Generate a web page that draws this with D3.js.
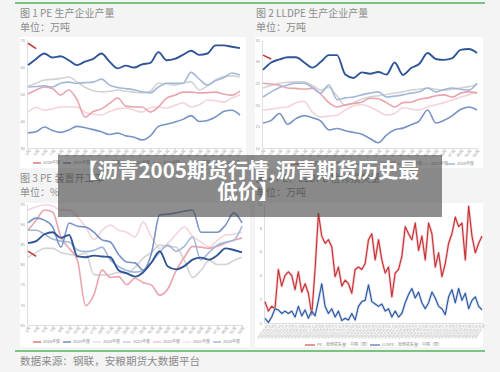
<!DOCTYPE html>
<html>
<head>
<meta charset="utf-8">
<script src="https://cdn.jsdelivr.net/npm/d3@7"></script>
<style>
  body { margin: 0; background: #f4f4f4; }
  svg { display: block; font-family: "Noto Sans CJK SC", "Noto Sans", sans-serif; }
</style>
</head>
<body>
<svg id="chart" width="500" height="372"></svg>
<script>
// shared by the three seasonal charts
var weekLabels = ["1周", "3周", "5周", "7周", "9周", "11周", "13周", "15周", "17周", "19周", "21周", "23周", "25周", "27周",
  "29周", "31周", "33周", "35周", "37周", "39周", "41周", "43周", "45周", "47周", "49周", "51周", "53周"];
var years = ["2026年度", "2025年度", "2024年度", "2023年度", "2022年度", "2021年度", "2020年度"];
var yearColours = ["#c23a3c", "#2f5597", "#d3d3d3", "#a2b8da", "#eaa4ad", "#f4d4d9", "#7893c6"];

// 图1 PE 生产企业产量 (万吨)
var pe2026 = [68.8, 66.8];
var pe2025 = [60.7, 63, 65, 63.5, 64, 62.5, 60.7, 62, 63, 65, 62, 59.5, 60.5, 59.8, 61, 61.5, 65.5, 62.5, 63, 64.5, 66, 64.5, 65, 68, 68, 67.5, 67];
var pe2024 = [53, 54, 55.2, 55.4, 55.8, 56.3, 54.5, 52.5, 51.2, 50.8, 51, 51.5, 51, 50.7, 50.4, 51, 54, 53.8, 53.3, 54, 54.5, 51.5, 53, 55.2, 56.5, 56.7, 56.3];
var pe2023 = [52.6, 52.8, 53, 52.6, 54, 54.4, 54, 54.2, 54.4, 55.5, 53.3, 52.4, 52, 51.6, 50.8, 50.4, 52.6, 54, 54, 54, 58, 55.5, 53.3, 55, 56, 57.8, 57];
var pe2022 = [50, 51.5, 52.6, 52, 49.6, 51.5, 48, 41.5, 43.5, 44.5, 46.5, 48.5, 45.5, 45.2, 45.2, 43.3, 45.2, 48.5, 49.5, 50.7, 50.7, 50.4, 50.5, 50.7, 50, 49.6, 51.1];
var pe2021 = [43.3, 45, 44, 44.5, 45.2, 45.2, 45.2, 43.2, 42.5, 42.2, 43.5, 44.5, 44.8, 44, 43.3, 45, 45.2, 44.8, 45.8, 46.7, 45.2, 46, 47.8, 47.5, 47, 48.5, 49.6];
var pe2020 = [35.6, 36, 37.8, 36.5, 35.8, 36.7, 38, 37.5, 36.8, 36, 35, 35.5, 34.5, 34, 33, 34.5, 38, 38.8, 39.6, 40.6, 42, 39.8, 40.2, 41.5, 43.5, 44, 42.2];
var peTicks = [30, 40, 50, 60, 70];

// 图2 LLDPE 生产企业产量 (万吨)
var ll2026 = [31.5, 30.6];
var ll2025 = [28.1, 29.8, 30.5, 31, 31, 29.8, 28.6, 29.9, 31.5, 31.5, 27, 26.2, 27.5, 27.2, 27.6, 27, 29.8, 26.9, 28.5, 29.5, 32, 30.6, 30.4, 30.8, 32.7, 32.9, 32];
var ll2024 = [23.9, 24.5, 25, 25.2, 25.3, 25.3, 24.5, 23.4, 24, 22, 19.8, 20.5, 21.3, 21.8, 22.1, 22.4, 22.7, 23, 23.4, 23.6, 23.9, 23.6, 23.4, 23.6, 23.9, 24.2, 24.6];
var ll2023 = [21.8, 23, 24, 24.6, 25, 25, 24, 22.7, 24.6, 21.2, 21.6, 21.8, 22.3, 22.7, 23, 21.8, 22, 22.3, 22.7, 23, 23.9, 23, 23.5, 23.9, 23.6, 23.4, 25];
var ll2022 = [25, 24.8, 24.5, 23.9, 23.8, 23.6, 23.8, 22.5, 20.5, 19.5, 20, 20.3, 20.6, 21.5, 21.4, 20.5, 19.5, 20.5, 20.6, 21.3, 21.6, 22.1, 22.3, 21.8, 22.7, 23, 22.7];
var ll2021 = [18.8, 19, 19.3, 19.5, 20.5, 20.8, 18.3, 17.2, 17.4, 17.6, 18.8, 19.8, 20, 19.5, 18.5, 17.6, 18, 19.3, 19, 18.8, 19.5, 20, 20.5, 21.1, 21.8, 22.3, 23];
var ll2020 = [15.8, 16.4, 18, 15.5, 16.8, 17.5, 17, 16.3, 14.2, 14.5, 14, 13.6, 13.2, 12.2, 11.2, 13, 14.2, 14.6, 15.4, 16.3, 18.8, 15.8, 16.4, 17.5, 18.9, 19.5, 18.8];
var llTicks = [10, 15, 20, 25, 30, 35];

// 图3 PE 装置开工率 (%)
var rate2026 = [83.3, 82];
var rate2025 = [85.3, 85.8, 87.5, 88, 86.6, 87.3, 82, 81.8, 82.2, 82, 81.8, 78.6, 77.8, 77, 78.1, 80.5, 83.3, 79.5, 78.8, 79.6, 81.2, 81.7, 81.2, 82.3, 84, 83.6, 83];
var rate2024 = [81.8, 83, 84, 84, 83, 82.5, 82.3, 82.8, 77.5, 77.4, 77.5, 78, 77.9, 79.3, 81.6, 83, 84.8, 84.5, 84.3, 81, 76.8, 78.5, 81, 80, 80, 81, 81.8];
var rate2023 = [88.5, 88.5, 87.5, 86.3, 85.8, 85.6, 83.6, 83.2, 83.5, 84.3, 81.1, 79.5, 78.5, 78.1, 78.5, 80.5, 83, 84.8, 83.3, 84.5, 86.8, 81.1, 83, 84.8, 85.5, 86, 89.5];
var rate2022 = [88.5, 91, 93.5, 93, 86.8, 84, 81.1, 69.8, 72.5, 78.6, 76.8, 77, 75, 76.6, 75.5, 74.9, 72.4, 74, 78.5, 81.8, 84.5, 84.3, 84, 84.5, 85.3, 86, 86.6];
var rate2021 = [93.5, 94.3, 94.8, 94.5, 93.5, 93.5, 91.8, 89.3, 86.2, 88.5, 89.8, 88.5, 88, 86.8, 90.5, 86.8, 84, 85.3, 87.5, 89.3, 87, 85.6, 84.3, 86, 87.3, 87.5, 88];
var rate2020 = [90.3, 91.5, 91, 89.3, 84.3, 90.3, 89.5, 89.3, 88, 86.1, 85.6, 82.5, 80.6, 80.4, 78.6, 82.8, 92.3, 92.5, 92.8, 93.2, 93.5, 88, 88, 88, 89.8, 92.8, 90.3];
var rateTicks = [65, 70, 75, 80, 85, 90, 95];

// 图4 检修损失量 (万吨, 周)
var lossPE = [1.8, 1.0, 1.4, 1.2, 4.5, 3.1, 4.0, 4.3, 4.0, 2.8, 4.3, 2.6, 3.3, 2.5, 0.7, 4.5, 9.2, 7.3, 6.7, 7.0,
  6.4, 3.9, 4.7, 3.1, 3.6, 3.3, 2.5, 4.5, 4.7, 4.5, 5.0, 7.0, 7.5, 5.3, 7.0, 5.3, 4.2, 4.7, 2.2, 4.2,
  4.5, 5.6, 8.1, 7.5, 7.0, 8.4, 6.1, 7.3, 5.3, 8.4, 7.5, 4.7, 5.9, 3.9, 5.0, 6.7, 7.5, 8.9, 8.1, 8.4,
  5.3, 9.8, 7.3, 5.9, 6.7, 7.3];
var lossLLDPE = [0.4, 0.05, 0.5, 1.2, 1.1, 0.8, 1.0, 0.8, 1.0, 0.5, 1.4, 0.6, 1.1, 0.4, 1.0, 0.6, 1.9, 3.3, 1.4, 0.8,
  1.2, 0.5, 1.0, 0.2, 0.4, 0.25, 0.8, 0.25, 1.4, 1.8, 1.9, 3.2, 1.8, 1.6, 1.4, 1.6, 1.0, 1.2, 0.5, 1.0,
  0.5, 0.8, 1.7, 2.4, 2.9, 2.1, 2.6, 1.7, 1.2, 1.7, 2.6, 2.1, 1.4, 1.2, 0.7, 2.2, 2.8, 1.7, 2.9, 1.9,
  2.5, 1.2, 1.9, 2.2, 1.4, 1.1];
var lossStart = new Date(2023, 0, 6);
var lossDates = lossPE.map(function (d, i) { return d3.timeWeek.offset(lossStart, i * 2); });
var lossTicks = [0, 2, 4, 6, 8, 10];
var lossNames = ["PE：检修损失量：中国（周）", "LLDPE：检修损失量：中国（周）"];

var svg = d3.select("#chart");

svg.append("rect").attr("width", 500).attr("height", 372).attr("fill", "#f4f4f4");

// white panels behind each chart
[[20, 37, 226, 131], [255, 37, 228, 131], [20, 203, 230, 144], [255, 203, 228, 144]].forEach(function (p) {
  svg.append("rect").attr("x", p[0]).attr("y", p[1]).attr("width", p[2]).attr("height", p[3]).attr("fill", "#fff");
});

// green rules top and bottom
[3, 351].forEach(function (yy) {
  svg.append("line")
    .attr("x1", 15).attr("x2", 485).attr("y1", yy).attr("y2", yy)
    .attr("stroke", "#52b35a").attr("stroke-width", 1.6);
});

function caption(x, y, s) {
  svg.append("text").attr("x", x).attr("y", y)
    .style("font-size", "10px").style("fill", "#8c8c8c").text(s);
}
caption(20, 16.5, "图 1 PE 生产企业产量");
caption(20, 31, "单位：万吨");
caption(256, 16.5, "图 2 LLDPE 生产企业产量");
caption(256, 31, "单位：万吨");
caption(20, 182, "图 3 PE 装置开工率");
caption(20, 196, "单位：%");
caption(256, 182, "图 4 PE、LLDPE 检修损失量");
caption(256, 196, "单位：万吨");

function styleAxis(ax) {
  ax.selectAll(".domain").attr("stroke", "#c9c9c9").attr("stroke-width", 0.6);
  ax.selectAll(".tick line").attr("stroke", "#c9c9c9").attr("stroke-width", 0.5);
  ax.selectAll("text").style("font-size", "4px").style("fill", "#9a9a9a");
}

function drawSeason(cfg) {
  var x = d3.scaleLinear().domain([0, weekLabels.length - 1]).range([cfg.left, cfg.right]);
  var y = d3.scaleLinear()
    .domain([cfg.ticks[0], cfg.ticks[cfg.ticks.length - 1]])
    .range([cfg.bottom, cfg.top]);
  var g = svg.append("g");

  var yAxis = g.append("g")
    .attr("transform", "translate(" + (cfg.left - 1) + ",0)")
    .call(d3.axisLeft(y).tickValues(cfg.ticks).tickSize(0).tickSizeOuter(0).tickPadding(2));
  styleAxis(yAxis);

  var xAxis = g.append("g")
    .attr("transform", "translate(0," + cfg.bottom + ")")
    .call(d3.axisBottom(x)
      .tickValues(d3.range(weekLabels.length))
      .tickFormat(function (i) { return weekLabels[i]; })
      .tickSize(1.5).tickSizeOuter(0).tickPadding(1));
  styleAxis(xAxis);
  xAxis.selectAll("text")
    .attr("text-anchor", "end")
    .attr("dy", "0.35em")
    .attr("dx", "-0.2em")
    .attr("transform", "rotate(-50)");

  var line = d3.line()
    .x(function (d, i) { return x(i); })
    .y(function (d) { return y(d); })
    .curve(d3.curveMonotoneX);

  // lightest years underneath, current years on top
  [5, 2, 4, 3, 6, 1, 0].forEach(function (k) {
    g.append("path")
      .datum(cfg.series[k])
      .attr("fill", "none")
      .attr("stroke", yearColours[k])
      .attr("stroke-width", k == 1 ? 1.9 : 1.6)
      .attr("stroke-linejoin", "round")
      .attr("d", line);
  });

  var leg = g.append("g").attr("transform", "translate(" + cfg.legendX + "," + cfg.legendY + ")");
  years.forEach(function (name, i) {
    leg.append("line")
      .attr("x1", i * cfg.legendStep).attr("x2", i * cfg.legendStep + 8)
      .attr("stroke", yearColours[i]).attr("stroke-width", 1);
    leg.append("text")
      .attr("x", i * cfg.legendStep + 10).attr("y", 1.4)
      .style("font-size", "4px").style("fill", "#8a8a8a")
      .text(name);
  });
}

drawSeason({
  left: 28, right: 240, top: 40, bottom: 148, ticks: peTicks,
  series: [pe2026, pe2025, pe2024, pe2023, pe2022, pe2021, pe2020],
  legendX: 33, legendY: 163, legendStep: 30
});
drawSeason({
  left: 263, right: 477, top: 40, bottom: 148, ticks: llTicks,
  series: [ll2026, ll2025, ll2024, ll2023, ll2022, ll2021, ll2020],
  legendX: 291, legendY: 164, legendStep: 26
});
drawSeason({
  left: 28, right: 242, top: 204, bottom: 325, ticks: rateTicks,
  series: [rate2026, rate2025, rate2024, rate2023, rate2022, rate2021, rate2020],
  legendX: 33, legendY: 342, legendStep: 30
});

// 图4 maintenance losses
var x4 = d3.scaleTime().domain(d3.extent(lossDates)).range([265, 482]);
var y4 = d3.scaleLinear().domain([0, 10]).range([323, 204]);
var g4 = svg.append("g");

var y4Axis = g4.append("g")
  .attr("transform", "translate(264,0)")
  .call(d3.axisLeft(y4).tickValues(lossTicks).tickSize(0).tickSizeOuter(0).tickPadding(2));
styleAxis(y4Axis);

var x4Axis = g4.append("g")
  .attr("transform", "translate(0,323)")
  .call(d3.axisBottom(x4).tickValues(lossDates).tickFormat(d3.timeFormat("%Y-%m-%d"))
    .tickSize(1.5).tickSizeOuter(0).tickPadding(1));
styleAxis(x4Axis);
x4Axis.selectAll("text")
  .style("font-size", "3.2px")
  .attr("text-anchor", "end")
  .attr("dy", "0.35em")
  .attr("dx", "-0.2em")
  .attr("transform", "rotate(-55)");

var line4 = d3.line()
  .x(function (d, i) { return x4(lossDates[i]); })
  .y(function (d) { return y4(d); });

[[lossPE, "#c62f33", "#eeb1b4"], [lossLLDPE, "#2c55a0", "#b9cbe6"]].forEach(function (s) {
  g4.append("path").datum(s[0]).attr("fill", "none")
    .attr("stroke", s[2]).attr("stroke-width", 2.6).attr("stroke-opacity", 0.7)
    .attr("stroke-linejoin", "round").attr("d", line4);
  g4.append("path").datum(s[0]).attr("fill", "none")
    .attr("stroke", s[1]).attr("stroke-width", 1.1)
    .attr("stroke-linejoin", "round").attr("d", line4);
});

var leg4 = g4.append("g").attr("transform", "translate(305,345)");
[["#c62f33", 0], ["#2c55a0", 65]].forEach(function (c, i) {
  leg4.append("line").attr("x1", c[1]).attr("x2", c[1] + 10)
    .attr("stroke", c[0]).attr("stroke-width", 1);
  leg4.append("text").attr("x", c[1] + 12).attr("y", 1.4)
    .style("font-size", "4px").style("fill", "#8a8a8a")
    .text(lossNames[i]);
});

// source note
svg.append("text").attr("x", 20).attr("y", 364.5)
  .style("font-size", "10.6px").style("fill", "#8a8a8a")
  .text("数据来源：钢联，安粮期货大数据平台");

// title banner over the charts
svg.append("rect")
  .attr("x", 58).attr("y", 155).attr("width", 384).attr("height", 62)
  .attr("fill", "rgba(60,60,60,0.58)");
svg.append("text")
  .attr("x", 248).attr("y", 178)
  .attr("text-anchor", "middle")
  .style("font-size", "20.5px").style("font-weight", "bold").style("fill", "#fff")
  .text("【沥青2005期货行情,沥青期货历史最");
svg.append("text")
  .attr("x", 248).attr("y", 198.5)
  .attr("text-anchor", "middle")
  .style("font-size", "20.5px").style("font-weight", "bold").style("fill", "#fff")
  .text("低价】");
</script>
</body>
</html>
